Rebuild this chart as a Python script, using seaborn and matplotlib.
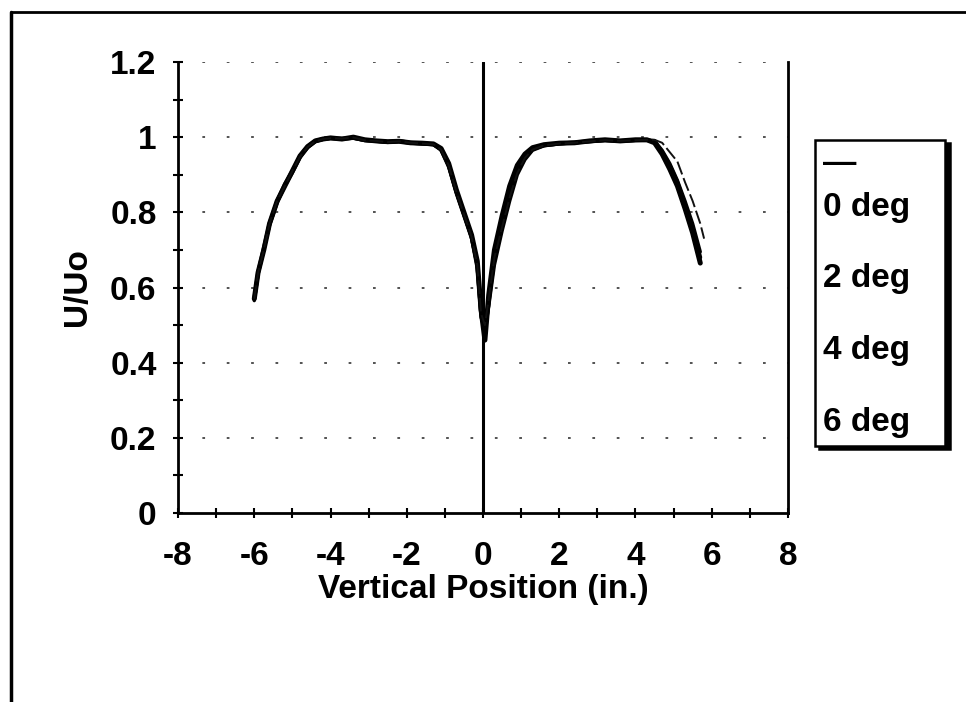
import numpy as np
import pandas as pd
import matplotlib
matplotlib.use("Agg")
import matplotlib.pyplot as plt
import seaborn as sns
from matplotlib.lines import Line2D
from matplotlib.ticker import MultipleLocator

sns.set_theme(style="white")
plt.rcParams['font.family'] = ['Liberation Sans', 'DejaVu Sans']
plt.rcParams['font.weight'] = 'bold'
plt.rcParams['text.color'] = 'black'
plt.rcParams['axes.labelcolor'] = 'black'

# ---- data -------------------------------------------------------------
x_pos = [-6.0, -5.9, -5.75, -5.6, -5.4, -5.2, -5.0, -4.8, -4.6, -4.4, -4.2, -4.0,
         -3.7, -3.4, -3.1, -2.8, -2.5, -2.2, -1.9, -1.6, -1.3, -1.1, -0.9, -0.7,
         -0.5, -0.3, -0.15, -0.05, 0.05, 0.15, 0.3, 0.5, 0.7, 0.9, 1.1, 1.3, 1.6,
         2.0, 2.4, 2.8, 3.2, 3.6, 4.0, 4.3, 4.5, 4.7, 4.9, 5.1, 5.3, 5.5, 5.7, 5.8]

u_0deg = [0.57, 0.64, 0.70, 0.77, 0.83, 0.87, 0.91, 0.95, 0.975, 0.99, 0.995, 0.998,
          0.995, 1.0, 0.993, 0.99, 0.988, 0.989, 0.985, 0.984, 0.982, 0.97, 0.93, 0.86,
          0.80, 0.74, 0.67, 0.54, 0.46, 0.58, 0.70, 0.79, 0.87, 0.925, 0.955, 0.972, 0.98,
          0.984, 0.985, 0.99, 0.993, 0.99, 0.993, 0.993, 0.985, 0.955, 0.915, 0.87, 0.81,
          0.745, 0.665, np.nan]
u_2deg = [0.57, 0.64, 0.705, 0.77, 0.83, 0.875, 0.91, 0.95, 0.975, 0.99, 0.995, 0.997,
          0.996, 0.998, 0.992, 0.99, 0.987, 0.99, 0.985, 0.983, 0.981, 0.968, 0.925, 0.855,
          0.795, 0.735, 0.66, 0.53, 0.48, 0.56, 0.68, 0.77, 0.85, 0.91, 0.945, 0.968, 0.978,
          0.983, 0.986, 0.989, 0.992, 0.99, 0.992, 0.992, 0.99, 0.96, 0.925, 0.88, 0.82,
          0.76, 0.68, np.nan]
u_4deg = [0.565, 0.635, 0.70, 0.765, 0.825, 0.87, 0.905, 0.945, 0.972, 0.988, 0.994, 0.997,
          0.995, 0.997, 0.991, 0.989, 0.986, 0.988, 0.984, 0.982, 0.98, 0.965, 0.92, 0.85,
          0.79, 0.73, 0.65, 0.52, 0.49, 0.55, 0.66, 0.75, 0.83, 0.90, 0.94, 0.965, 0.977,
          0.982, 0.985, 0.988, 0.991, 0.989, 0.991, 0.992, 0.99, 0.965, 0.93, 0.885, 0.83,
          0.77, 0.695, np.nan]
u_6deg = [0.57, 0.64, 0.70, 0.77, 0.83, 0.87, 0.91, 0.948, 0.974, 0.989, 0.995, 0.997,
          0.996, 0.999, 0.992, 0.99, 0.987, 0.989, 0.985, 0.983, 0.981, 0.967, 0.925, 0.855,
          0.795, 0.735, 0.66, 0.53, 0.50, 0.57, 0.68, 0.76, 0.84, 0.905, 0.945, 0.967, 0.978,
          0.983, 0.985, 0.989, 0.992, 0.99, 0.992, 0.993, 0.993, 0.985, 0.96, 0.935, 0.88,
          0.83, 0.77, 0.73]

series_labels = ["0 deg", "2 deg", "4 deg", "6 deg"]
x_ticks = [-8, -6, -4, -2, 0, 2, 4, 6, 8]
y_ticks = [0, 0.2, 0.4, 0.6, 0.8, 1.0, 1.2]
y_tick_labels = ["0", "0.2", "0.4", "0.6", "0.8", "1", "1.2"]

df = pd.DataFrame({"x": x_pos, "0 deg": u_0deg, "2 deg": u_2deg,
                   "4 deg": u_4deg, "6 deg": u_6deg})
long = df.melt(id_vars="x", var_name="angle", value_name="u")

# ---- figure -----------------------------------------------------------
fig = plt.figure(figsize=(9.66, 7.02), dpi=100)
ax = fig.add_axes([0.1843, 0.2692, 0.6314, 0.6425])

styles = {
    "0 deg": dict(color="black", lw=3.6, ls="-"),
    "2 deg": dict(color="black", lw=2.8, ls="-"),
    "4 deg": dict(color="black", lw=2.4, ls="-"),
    "6 deg": dict(color="#111111", lw=1.4, ls=(0, (7, 2))),
}
for lab in series_labels:
    sub = long[long["angle"] == lab].dropna()
    st = styles[lab]
    sns.lineplot(data=sub, x="x", y="u", ax=ax, color=st["color"],
                 linewidth=st["lw"], linestyle=st["ls"], sort=False,
                 legend=False, estimator=None)

ax.set_xlim(-8, 8)
ax.set_ylim(0, 1.2)
ax.axvline(0, color="black", lw=2.2, zorder=1)

for yv in y_ticks[1:]:
    ax.axhline(yv, color="#444444", lw=1.3, ls=(0, (1.5, 12)), zorder=0)

ax.set_xticks(x_ticks)
ax.set_xticklabels([str(v) for v in x_ticks])
ax.set_yticks(y_ticks)
ax.set_yticklabels(y_tick_labels)
ax.xaxis.set_minor_locator(MultipleLocator(1))
ax.yaxis.set_minor_locator(MultipleLocator(0.1))
ax.tick_params(axis="both", which="both", direction="inout", length=7,
               width=1.5, color="black", labelsize=24, labelcolor="black",
               bottom=True, left=True, top=False, right=False)
ax.tick_params(axis="x", which="major", pad=17)
ax.tick_params(axis="y", which="major", pad=12)

for side in ["left", "bottom", "right"]:
    ax.spines[side].set_visible(True)
    ax.spines[side].set_color("black")
    ax.spines[side].set_linewidth(2.0)
ax.spines["top"].set_visible(False)

ax.set_xlabel("Vertical Position (in.)", fontsize=24, fontweight="bold",
              color="black", labelpad=1)
ax.set_ylabel("U/Uo", fontsize=24, fontweight="bold", color="black", labelpad=12)

handles = [Line2D([], [], color="none") for _ in series_labels]
leg = ax.legend(handles, series_labels, title="—", alignment="left",
                loc="upper left", bbox_to_anchor=(815 / 966, 1 - 140 / 702),
                bbox_transform=fig.transFigure, markerfirst=False,
                prop={"size": 24, "weight": "bold"}, title_fontsize=24,
                handlelength=0.5, handletextpad=0.3, labelcolor="black",
                labelspacing=1.22, borderpad=0.25, frameon=True, fancybox=False,
                shadow={"ox": 3, "oy": -2, "color": "black", "alpha": 1.0},
                borderaxespad=0)
leg._legend_box.sep = 9
leg.get_title().set_color("black")
leg.get_frame().set_edgecolor("black")
leg.get_frame().set_linewidth(1.8)
leg.get_frame().set_facecolor("white")

# partial outer border (left and top)
fig.add_artist(Line2D([0.011, 0.011], [0.0, 0.983], transform=fig.transFigure,
                      color="black", lw=2.5))
fig.add_artist(Line2D([0.011, 1.0], [0.983, 0.983], transform=fig.transFigure,
                      color="black", lw=2.0))

fig.savefig("out.png", dpi=100)
